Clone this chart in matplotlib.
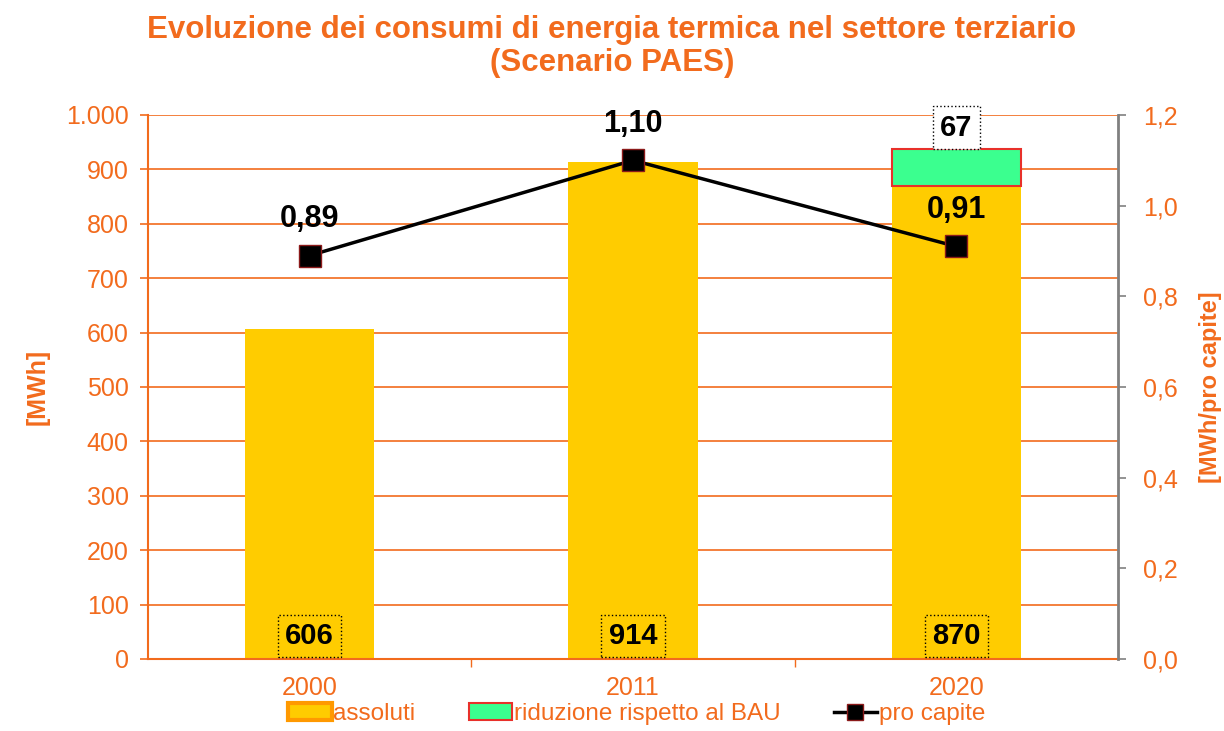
import matplotlib
matplotlib.use("Agg")
import matplotlib.pyplot as plt
from matplotlib.lines import Line2D
from matplotlib.patches import Patch
import numpy as np

years = ["2000", "2011", "2020"]
assoluti = [606, 914, 870]
riduzione = [0, 0, 67]
pro_capite = [0.89, 1.10, 0.91]

ORANGE = "#F26B1D"
YELLOW = "#FFCC00"
GREEN = "#3BFF8F"
plt.rcParams["font.family"] = ["Liberation Sans", "DejaVu Sans"]

fig = plt.figure(figsize=(12.24, 7.31), dpi=100)
ax = fig.add_axes([148/1224, 1 - 659/731, 970/1224, 544/731])
ax2 = ax.twinx()

x = np.arange(len(years))
width = 0.4
ax.bar(x, assoluti, width, color=YELLOW, zorder=2)
ax.bar(x[2], riduzione[2], width, bottom=assoluti[2], color=GREEN,
       edgecolor="#E8302A", linewidth=1.5, zorder=2)

ax.set_xlim(-0.5, 2.5)
ax.set_ylim(0, 1000)
ax.set_yticks(np.arange(0, 1001, 100))
ax.set_yticklabels(["0", "100", "200", "300", "400", "500", "600", "700", "800", "900", "1.000"])
ax.yaxis.grid(True, color=ORANGE, linewidth=1.2, zorder=0)
ax.set_axisbelow(True)
ax.set_xticks(x)
ax.set_xticklabels(years)
ax.set_xticks([0.5, 1.5], minor=True)
ax.tick_params(axis="x", which="major", length=0, colors=ORANGE, labelsize=18, pad=12)
ax.tick_params(axis="x", which="minor", length=6, color=ORANGE, width=1)
ax.tick_params(axis="y", colors=ORANGE, labelsize=18, length=6, width=1.2, direction="out", pad=8)
for s in ["top", "right"]:
    ax.spines[s].set_visible(False)
ax.spines["left"].set_color(ORANGE)
ax.spines["left"].set_linewidth(1.5)
ax.spines["bottom"].set_color(ORANGE)
ax.spines["bottom"].set_linewidth(1.5)
ax.set_ylabel("[MWh]", color=ORANGE, fontsize=18, fontweight="bold", labelpad=12)

for xi, v in zip(x, assoluti):
    ax.text(xi, 42, f"{v}", ha="center", va="center", fontsize=21, fontweight="bold",
            color="black", zorder=5,
            bbox=dict(boxstyle="square,pad=0.25", fc="none", ec="black", ls=":", lw=1))
ax.text(x[2], assoluti[2] + riduzione[2] + 40, f"{riduzione[2]}", ha="center", va="center",
        fontsize=21, fontweight="bold", color="black", zorder=5,
        bbox=dict(boxstyle="square,pad=0.25", fc="white", ec="black", ls=":", lw=1))

ax2.plot(x, pro_capite, color="black", linewidth=2.5, marker="s", markersize=16,
         markerfacecolor="black", markeredgecolor="#8B1A1A", markeredgewidth=1, zorder=6)
ax2.set_ylim(0, 1.2)
ax2.set_yticks(np.arange(0, 1.21, 0.2))
ax2.set_yticklabels([f"{v:.1f}".replace(".", ",") for v in np.arange(0, 1.21, 0.2)])
ax2.tick_params(axis="y", colors="#808080", labelcolor=ORANGE, labelsize=18, length=6,
                width=1.2, pad=12)
for s in ["top", "left", "bottom"]:
    ax2.spines[s].set_visible(False)
ax2.spines["right"].set_color("#808080")
ax2.spines["right"].set_linewidth(2)
ax2.set_ylabel("[MWh/pro capite]", color=ORANGE, fontsize=17, fontweight="bold", labelpad=15)

for xi, v in zip(x, pro_capite):
    ax2.text(xi, v + 0.08, f"{v:.2f}".replace(".", ","), ha="center", va="center",
             fontsize=22, fontweight="bold", color="black", zorder=7)

fig.suptitle("Evoluzione dei consumi di energia termica nel settore terziario\n(Scenario PAES)",
             color=ORANGE, fontsize=22.5, fontweight="bold", y=0.98, linespacing=1.15)

handles = [
    Patch(facecolor=YELLOW, edgecolor="#FF9900", linewidth=3, label="assoluti"),
    Patch(facecolor=GREEN, edgecolor="#E8302A", linewidth=1.5, label="riduzione rispetto al BAU"),
    Line2D([0], [0], color="black", linewidth=2.5, marker="s", markersize=12,
           markerfacecolor="black", markeredgecolor="#8B1A1A", label="pro capite"),
]
leg = fig.legend(handles=handles, loc="lower center", ncol=3, frameon=False,
                 bbox_to_anchor=(0.52, -0.022), fontsize=17.5, handlelength=1.8,
                 handletextpad=0.05, columnspacing=2.2)
for t in leg.get_texts():
    t.set_color(ORANGE)

fig.savefig("out.png", dpi=100)
